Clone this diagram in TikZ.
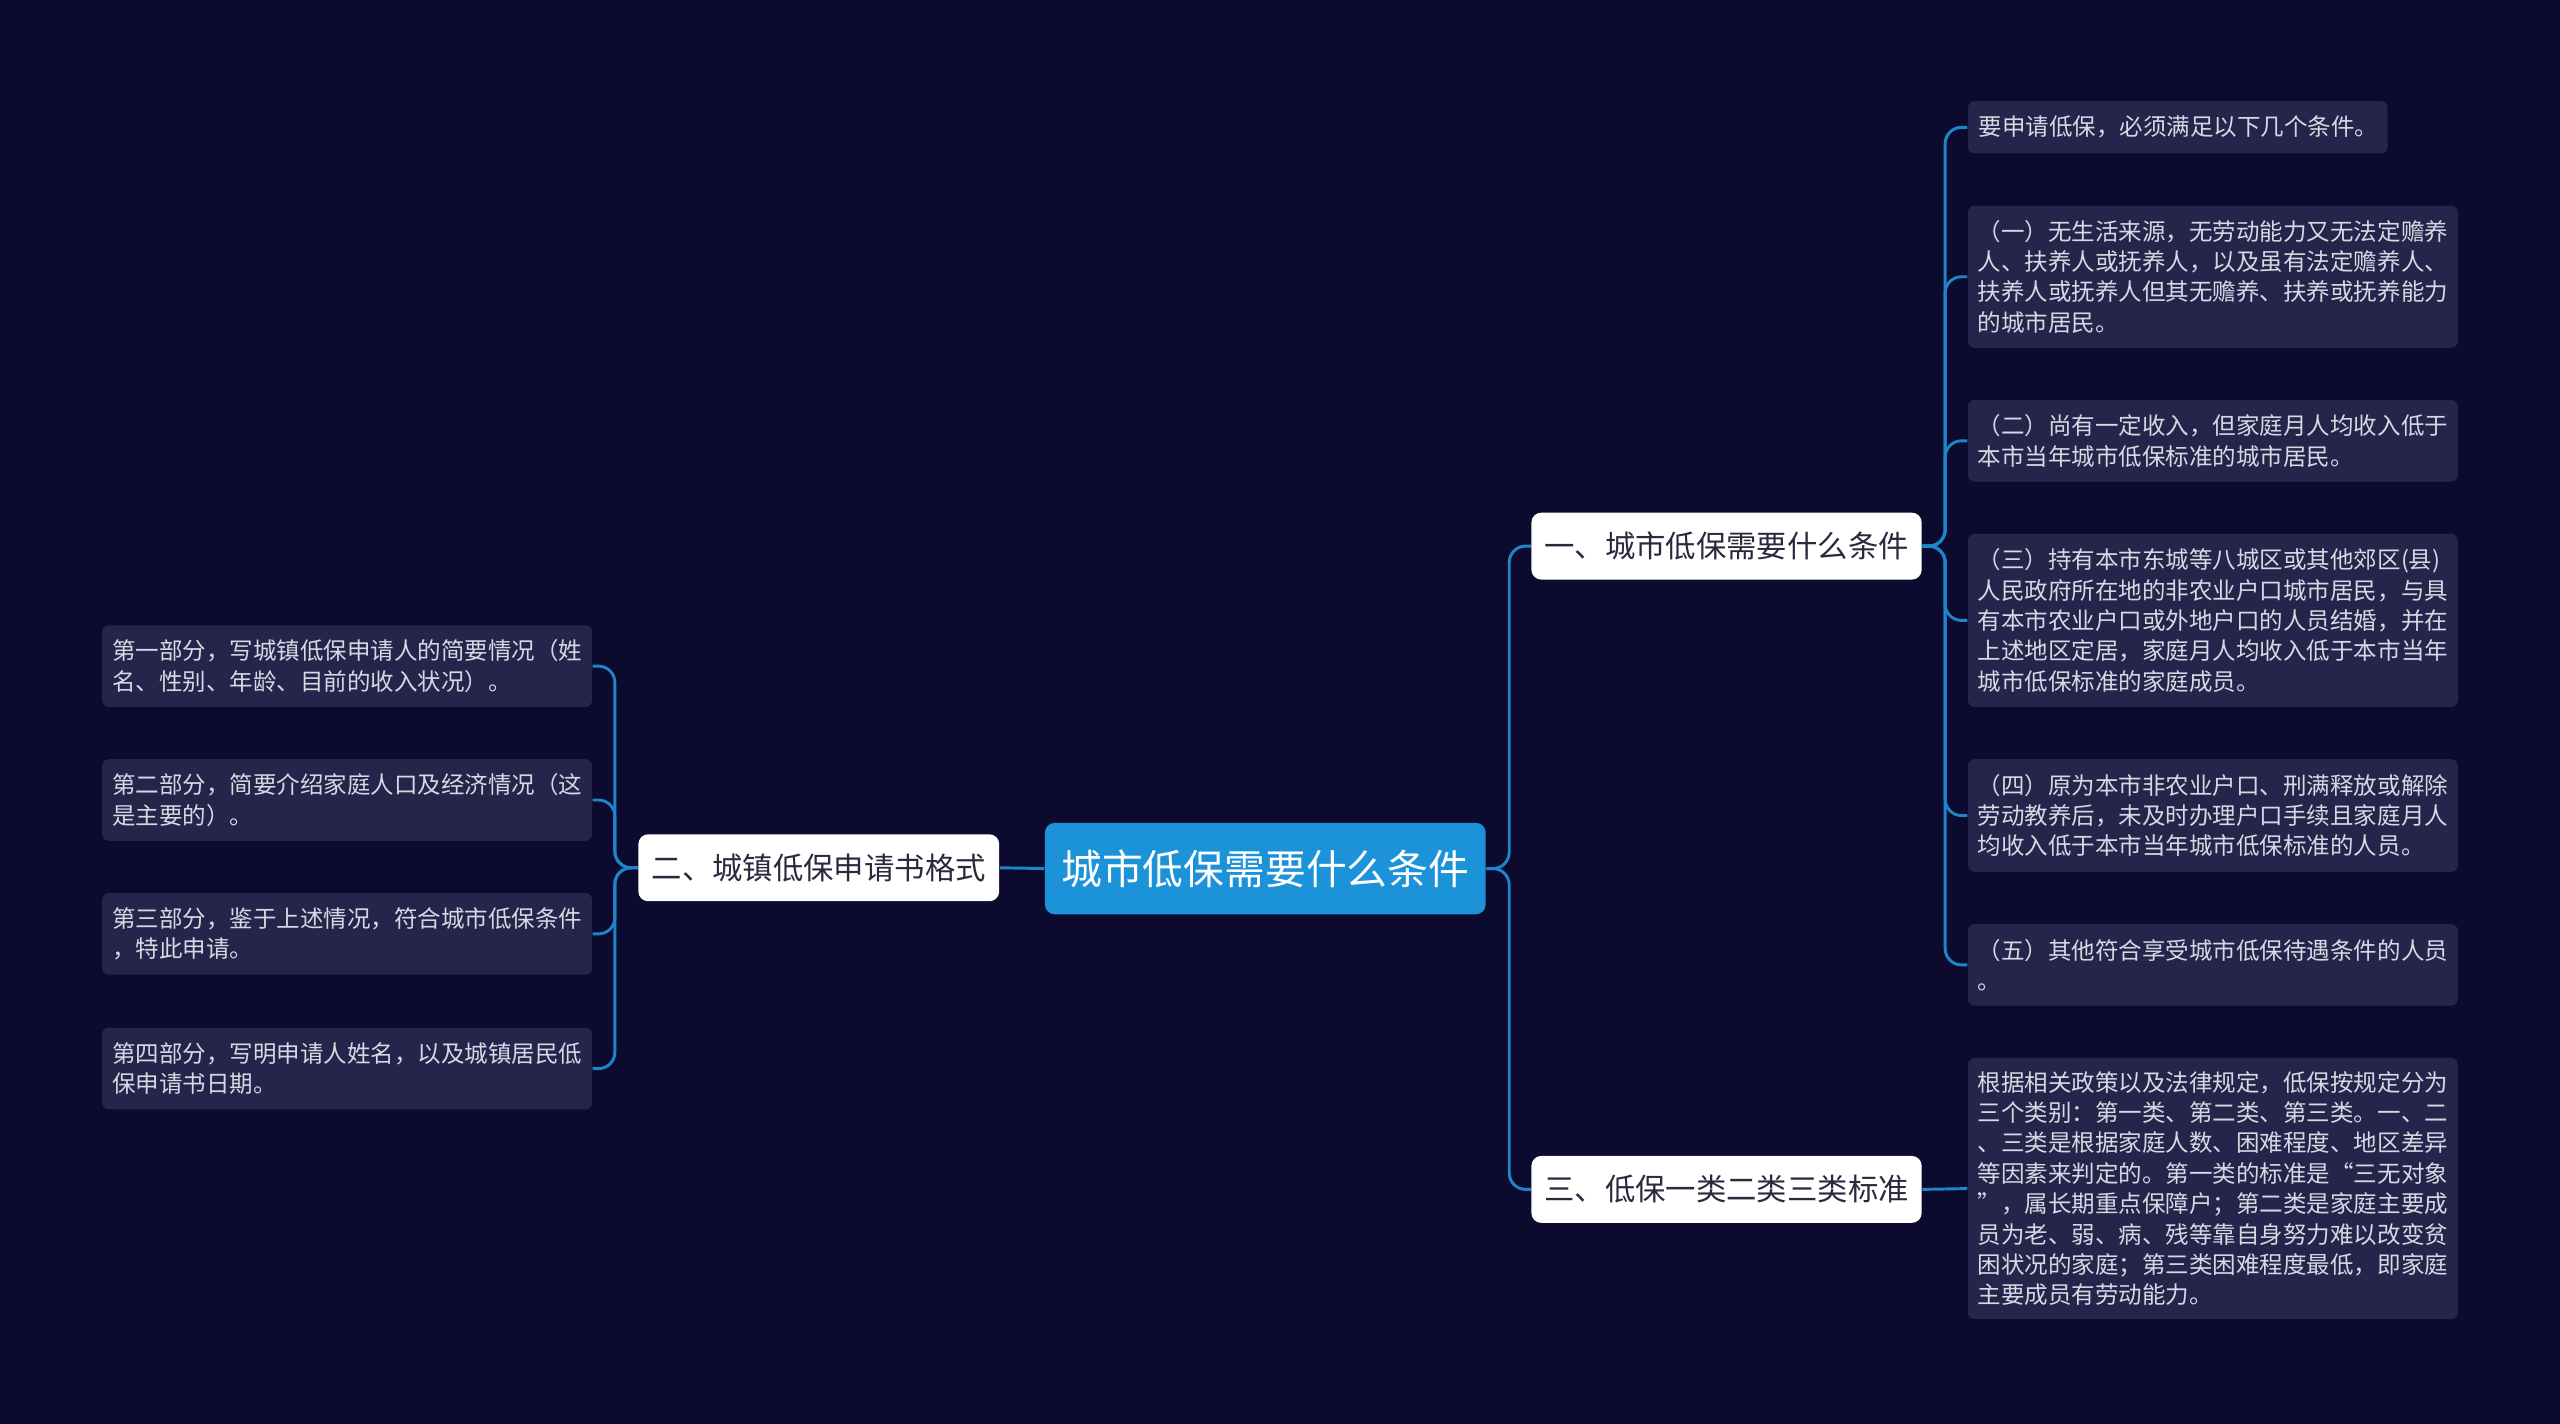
\documentclass[tikz,border=0pt]{standalone}
\usepackage{fontspec}
\setmainfont{Noto Sans CJK SC}
\begin{document}
\begin{tikzpicture}[x=0.5pt,y=0.5pt,
  leaf/.style={fill=leafc,rounded corners=2pt,text=txtc,font=\fontsize{7.2pt}{9.3pt}\selectfont,align=left,inner sep=3pt,minimum width=150pt,text width=144pt,anchor=west},
  lleaf/.style={leaf,anchor=east},
  branch/.style={fill=white,rounded corners=3pt,text=darkc,font=\fontsize{9.3pt}{11pt}\selectfont,inner sep=0pt,minimum height=20.5pt},
  conn/.style={draw=linec,line width=0.9pt,rounded corners=5pt}]
\definecolor{bgc}{HTML}{0C0A2E}
\definecolor{leafc}{HTML}{25244A}
\definecolor{txtc}{HTML}{D8D8E4}
\definecolor{darkc}{HTML}{2A2A3E}
\definecolor{linec}{HTML}{1E86C8}
\definecolor{rootc}{HTML}{1C93D8}
\fill[bgc] (0,0) rectangle (1568,-872);
\useasboundingbox (0,0) rectangle (1568,-872);
\node[fill=rootc,rounded corners=3pt,text=white,font=\fontsize{12.5pt}{14pt}\selectfont,minimum width=135pt,minimum height=28pt,inner sep=0pt] (root) at (775,-532) {城市低保需要什么条件};
\node[branch,minimum width=110.5pt] (b2) at (501.5,-531.5) {二、城镇低保申请书格式};
\node[branch,minimum width=119.5pt] (b1) at (1057.5,-334.5) {一、城市低保需要什么条件};
\node[branch,minimum width=119.5pt] (b3) at (1057.5,-728.5) {三、低保一类二类三类标准};
\node[leaf,minimum width=128.5pt,text width=122pt,minimum height=16pt] (r1) at (1205,-78) {要申请低保，必须满足以下几个条件。};
\node[leaf,minimum height=43.5pt] (r2) at (1205,-169.5) {（一）无生活来源，无劳动能力又无法定赡养\\人、扶养人或抚养人，以及虽有法定赡养人、\\扶养人或抚养人但其无赡养、扶养或抚养能力\\的城市居民。};
\node[leaf,minimum height=25pt] (r3) at (1205,-270) {（二）尚有一定收入，但家庭月人均收入低于\\本市当年城市低保标准的城市居民。};
\node[leaf,minimum height=53pt] (r4) at (1205,-380) {（三）持有本市东城等八城区或其他郊区(县)\\人民政府所在地的非农业户口城市居民，与具\\有本市农业户口或外地户口的人员结婚，并在\\上述地区定居，家庭月人均收入低于本市当年\\城市低保标准的家庭成员。};
\node[leaf,minimum height=34.5pt] (r5) at (1205,-499.5) {（四）原为本市非农业户口、刑满释放或解除\\劳动教养后，未及时办理户口手续且家庭月人\\均收入低于本市当年城市低保标准的人员。};
\node[leaf,minimum height=25pt] (r6) at (1205,-591) {（五）其他符合享受城市低保待遇条件的人员\\。};
\node[leaf,minimum height=80pt] (r7) at (1205,-728) {根据相关政策以及法律规定，低保按规定分为\\三个类别：第一类、第二类、第三类。一、二\\、三类是根据家庭人数、困难程度、地区差异\\等因素来判定的。第一类的标准是“三无对象\\”，属长期重点保障户；第二类是家庭主要成\\员为老、弱、病、残等靠自身努力难以改变贫\\困状况的家庭；第三类困难程度最低，即家庭\\主要成员有劳动能力。};
\node[lleaf,minimum height=25pt] (l1) at (363,-408) {第一部分，写城镇低保申请人的简要情况（姓\\名、性别、年龄、目前的收入状况）。};
\node[lleaf,minimum height=25pt] (l2) at (363,-490) {第二部分，简要介绍家庭人口及经济情况（这\\是主要的）。};
\node[lleaf,minimum height=25pt] (l3) at (363,-572) {第三部分，鉴于上述情况，符合城市低保条件\\，特此申请。};
\node[lleaf,minimum height=25pt] (l4) at (363,-654.5) {第四部分，写明申请人姓名，以及城镇居民低\\保申请书日期。};
\draw[conn] (root.west) -- (b2.east);
\draw[conn] (root.east) -- ++(14,0) |- (b1.west);
\draw[conn] (root.east) -- ++(14,0) |- (b3.west);
\draw[conn] (b3.east) -- (r7.west);
\foreach \n in {r1,r2,r3,r4,r5,r6}{\draw[conn] (b1.east) -- ++(14,0) |- (\n.west);}
\foreach \n in {l1,l2,l3,l4}{\draw[conn] (b2.west) -- ++(-14,0) |- (\n.east);}
\end{tikzpicture}
\end{document}
